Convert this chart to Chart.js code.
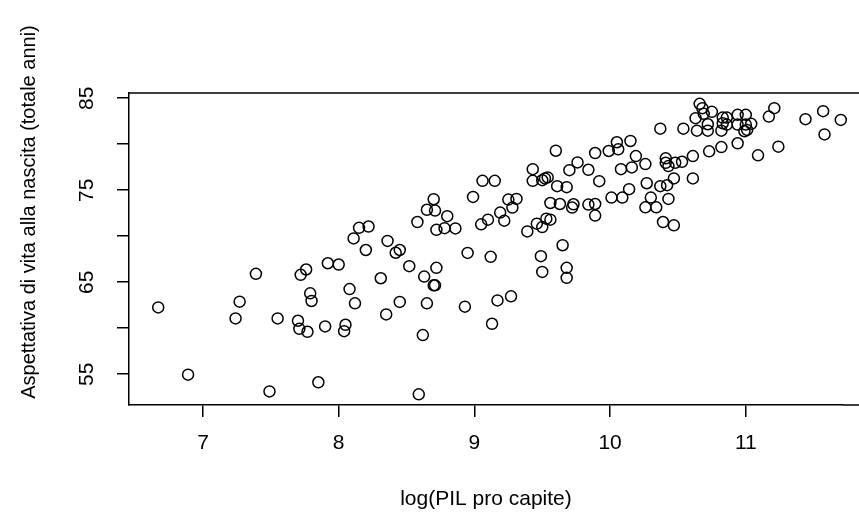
<!DOCTYPE html>
<html>
<head>
<meta charset="utf-8">
<script src="https://cdn.jsdelivr.net/npm/chart.js@4"></script>
<style>
  body { margin: 0; background: #fff; }
  #chart { display: block; }
</style>
</head>
<body>
<canvas id="chart" width="859" height="526"></canvas>
<script>
// log(PIL pro capite) per paese
const logPil = [
    6.67, 6.89, 7.24, 7.27, 7.39, 7.49, 7.55, 7.70, 7.71, 7.77,
    7.72, 7.76, 7.79, 7.80, 7.85, 7.90, 7.92, 8.00, 8.05, 8.04,
    8.08, 8.12, 8.11, 8.20, 8.15, 8.22, 8.31, 8.36, 8.42, 8.45,
    8.52, 8.45, 8.35, 8.58, 8.65, 8.71, 8.70, 8.80, 8.72, 8.78,
    8.86, 8.63, 8.72, 8.70, 8.71, 8.65, 8.62, 8.59, 8.95, 9.12,
    8.93, 9.17, 9.27, 9.13, 9.49, 9.50, 9.65, 9.68, 9.68, 8.99,
    9.06, 9.15, 9.05, 9.10, 9.22, 9.19, 9.25, 9.31, 9.28, 9.39,
    9.46, 9.50, 9.53, 9.56, 9.43, 9.43, 9.50, 9.52, 9.54, 9.60,
    9.61, 9.68, 9.56, 9.63, 9.72, 9.73, 9.70, 9.76, 9.84, 9.89,
    9.92, 9.84, 9.89, 9.89, 9.99, 10.05, 10.06, 10.15, 10.19, 10.26,
    10.08, 10.16, 10.01, 10.09, 10.14, 10.27, 10.30, 10.26, 10.34, 10.43,
    10.37, 10.42, 10.47, 10.61, 10.39, 10.47, 10.41, 10.41, 10.43, 10.48,
    10.53, 10.61, 10.73, 10.82, 10.94, 11.09, 11.24, 10.37, 10.54, 10.64,
    10.72, 10.82, 10.63, 10.66, 10.68, 10.69, 10.75, 10.72, 10.83, 10.86,
    10.83, 10.86, 10.94, 11.00, 10.94, 11.00, 11.04, 10.99, 11.01, 11.17,
    11.21, 11.44, 11.57, 11.70, 11.58
];
// aspettativa di vita alla nascita (anni)
const aspettativa = [
    62.26, 54.95, 61.06, 62.88, 65.91, 53.13, 61.06, 60.81, 59.93, 59.61,
    65.80, 66.38, 63.79, 62.96, 54.12, 60.19, 67.06, 66.92, 60.37, 59.68,
    64.25, 62.70, 69.76, 68.50, 70.91, 71.05, 65.43, 69.49, 68.20, 68.50,
    66.74, 62.86, 61.50, 71.54, 72.87, 72.78, 74.02, 72.18, 70.69, 70.87,
    70.85, 65.61, 66.56, 64.66, 64.66, 62.70, 59.25, 52.81, 68.18, 67.76,
    62.34, 63.02, 63.46, 60.48, 67.83, 66.12, 69.02, 66.56, 65.47, 74.27,
    76.02, 76.02, 71.29, 71.80, 71.69, 72.57, 73.98, 74.05, 73.11, 70.52,
    71.36, 70.99, 71.91, 71.80, 77.29, 76.02, 76.09, 76.28, 76.39, 79.29,
    75.44, 75.33, 73.61, 73.50, 73.11, 73.47, 77.18, 78.02, 77.22, 79.04,
    75.98, 73.44, 73.50, 72.24, 79.26, 80.21, 79.44, 80.35, 78.71, 77.84,
    77.29, 77.48, 74.20, 74.20, 75.11, 75.76, 74.20, 73.14, 73.14, 74.05,
    75.44, 75.55, 76.28, 76.28, 71.54, 71.18, 78.46, 77.98, 77.62, 77.98,
    78.09, 78.71, 79.22, 79.69, 80.10, 78.79, 79.73, 81.69, 81.69, 81.47,
    81.47, 81.47, 82.83, 84.39, 83.92, 83.30, 83.52, 82.17, 82.89, 82.89,
    82.28, 82.13, 83.19, 83.19, 82.13, 82.13, 82.21, 81.41, 81.55, 83.00,
    83.92, 82.72, 83.59, 82.64, 81.06
];

const xTicks = [7, 8, 9, 10, 11];
const yTicks = [55, 60, 65, 70, 75, 80, 85];
const yTickLabels = ['55', '', '65', '', '75', '', '85'];
const yTitle = 'Aspettativa di vita alla nascita (totale anni)';

const FONT = 'Liberation Sans, Arial, sans-serif';

// riquadro in alto (prosegue oltre il bordo destro) + titolo asse y
const extras = {
    id: 'extras',
    afterDraw(chart) {
        const { ctx, chartArea } = chart;
        ctx.save();
        ctx.strokeStyle = '#000';
        ctx.lineWidth = 1.5;
        ctx.beginPath();
        ctx.moveTo(chartArea.left, chartArea.top);
        ctx.lineTo(chart.width, chartArea.top);
        ctx.moveTo(chartArea.right, chartArea.bottom);
        ctx.lineTo(chart.width, chartArea.bottom);
        ctx.stroke();

        ctx.translate(29, 212);
        ctx.rotate(-Math.PI / 2);
        ctx.fillStyle = '#000';
        ctx.font = '20px ' + FONT;
        ctx.textAlign = 'center';
        ctx.textBaseline = 'middle';
        ctx.fillText(yTitle, 0, 0);
        ctx.restore();
    }
};

new Chart(document.getElementById('chart'), {
    type: 'scatter',
    data: {
        datasets: [{
            data: logPil.map((x, i) => ({ x: x, y: aspettativa[i] })),
            pointStyle: 'circle',
            pointRadius: 5.5,
            pointHoverRadius: 5.5,
            borderWidth: 1.5,
            borderColor: '#000',
            backgroundColor: 'rgba(0,0,0,0)',
            clip: false
        }]
    },
    options: {
        responsive: false,
        animation: false,
        events: [],
        layout: { padding: { top: 93, right: 16, bottom: 0, left: 0 } },
        plugins: { legend: { display: false }, tooltip: { enabled: false } },
        scales: {
            x: {
                type: 'linear',
                min: 6.4547,
                max: 11.7163,
                afterBuildTicks: s => { s.ticks = xTicks.map(v => ({ value: v })); },
                afterFit: s => { s.height = 121; },
                border: { display: true, color: '#000', width: 1.5 },
                grid: { display: true, drawOnChartArea: false, drawTicks: true, tickLength: 12, color: '#000', lineWidth: 1.5 },
                ticks: { color: '#000', font: { family: FONT, size: 21 }, padding: 14, maxRotation: 0, autoSkip: false },
                title: { display: true, text: 'log(PIL pro capite)', color: '#000', font: { family: FONT, size: 21 }, padding: { top: 0, bottom: 14 } }
            },
            y: {
                type: 'linear',
                min: 51.652,
                max: 85.565,
                afterBuildTicks: s => { s.ticks = yTicks.map(v => ({ value: v })); },
                afterFit: s => { s.width = 129; },
                border: { display: true, color: '#000', width: 1.5 },
                grid: { display: true, drawOnChartArea: false, drawTicks: true, tickLength: 12, color: '#000', lineWidth: 1.5 },
                ticks: {
                    color: '#000', font: { family: FONT, size: 21 }, padding: 18,
                    minRotation: 90, maxRotation: 90, crossAlign: 'center', autoSkip: false,
                    callback: (v, i) => yTickLabels[i]
                },
                title: { display: false }
            }
        }
    },
    plugins: [extras]
});
</script>
</body>
</html>
